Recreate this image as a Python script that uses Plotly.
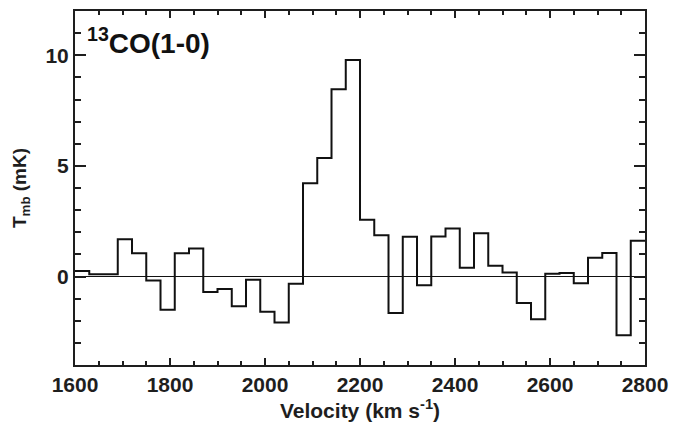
import plotly.graph_objects as go

# 13CO(1-0) spectrum: channel centres (km/s) and main-beam temperature (mK)
velocity = [1615, 1645, 1675, 1705, 1735, 1765, 1795, 1825, 1855, 1885,
            1915, 1945, 1975, 2005, 2035, 2065, 2095, 2125, 2155, 2185,
            2215, 2245, 2275, 2305, 2335, 2365, 2395, 2425, 2455, 2485,
            2515, 2545, 2575, 2605, 2635, 2665, 2695, 2725, 2755, 2785]
tmb = [0.25, 0.10, 0.10, 1.68, 1.05, -0.18, -1.50, 1.05, 1.26, -0.70,
       -0.57, -1.35, -0.15, -1.59, -2.08, -0.33, 4.21, 5.36, 8.46, 9.79,
       2.57, 1.86, -1.65, 1.80, -0.39, 1.81, 2.17, 0.39, 1.95, 0.49,
       0.18, -1.20, -1.93, 0.12, 0.16, -0.30, 0.85, 1.06, -2.65, 1.62]

x_range = [1600, 2800]
y_range = [-4, 12]
y_ticks = [0, 5, 10]

# extend the outer channels flat to the axis limits
xs = [x_range[0]] + velocity + [x_range[1]]
ys = [tmb[0]] + tmb + [tmb[-1]]

ink = "#1e1e1e"
font_fam = "Liberation Sans"

fig = go.Figure()
fig.add_trace(go.Scatter(
    x=xs, y=ys, mode="lines",
    line=dict(shape="hvh", color="#111111", width=2),
    hoverinfo="skip", showlegend=False,
))

fig.update_layout(
    width=686, height=429,
    margin=dict(l=75, r=41, t=9, b=64),
    plot_bgcolor="white", paper_bgcolor="white",
    font=dict(family=font_fam, color=ink, size=20, weight="bold"),
    annotations=[dict(
        xref="paper", yref="paper", x=0, y=1,
        xshift=10, yshift=-10,
        xanchor="left", yanchor="top",
        text="<sup>13</sup>CO(1-0)", showarrow=False,
        font=dict(family=font_fam, size=28, color="#111111", weight="bold"),
    )],
)

fig.update_xaxes(
    range=x_range, dtick=200, tick0=1600,
    showgrid=False, zeroline=False,
    showline=True, linecolor=ink, linewidth=2, mirror="allticks",
    ticks="inside", ticklen=7, tickwidth=1.5, tickcolor=ink,
    minor=dict(dtick=50, ticks="inside", ticklen=4, tickwidth=1.5, tickcolor=ink),
    tickfont=dict(size=21, family=font_fam, weight="bold"),
    title=dict(text="Velocity (km s<sup>-1</sup>)", standoff=6,
               font=dict(size=21, family=font_fam, weight="bold")),
)
fig.update_yaxes(
    range=y_range, tickvals=y_ticks,
    showgrid=False,
    zeroline=True, zerolinecolor="#111111", zerolinewidth=1,
    showline=True, linecolor=ink, linewidth=2, mirror="allticks",
    ticks="inside", ticklen=11, tickwidth=1.5, tickcolor=ink,
    minor=dict(dtick=1, ticks="inside", ticklen=6, tickwidth=1.5, tickcolor=ink),
    tickfont=dict(size=21, family=font_fam, weight="bold"),
    title=dict(text="T<sub>mb</sub> (mK)", standoff=14,
               font=dict(size=19, family=font_fam, weight="bold")),
)

fig.write_html("out.html")
